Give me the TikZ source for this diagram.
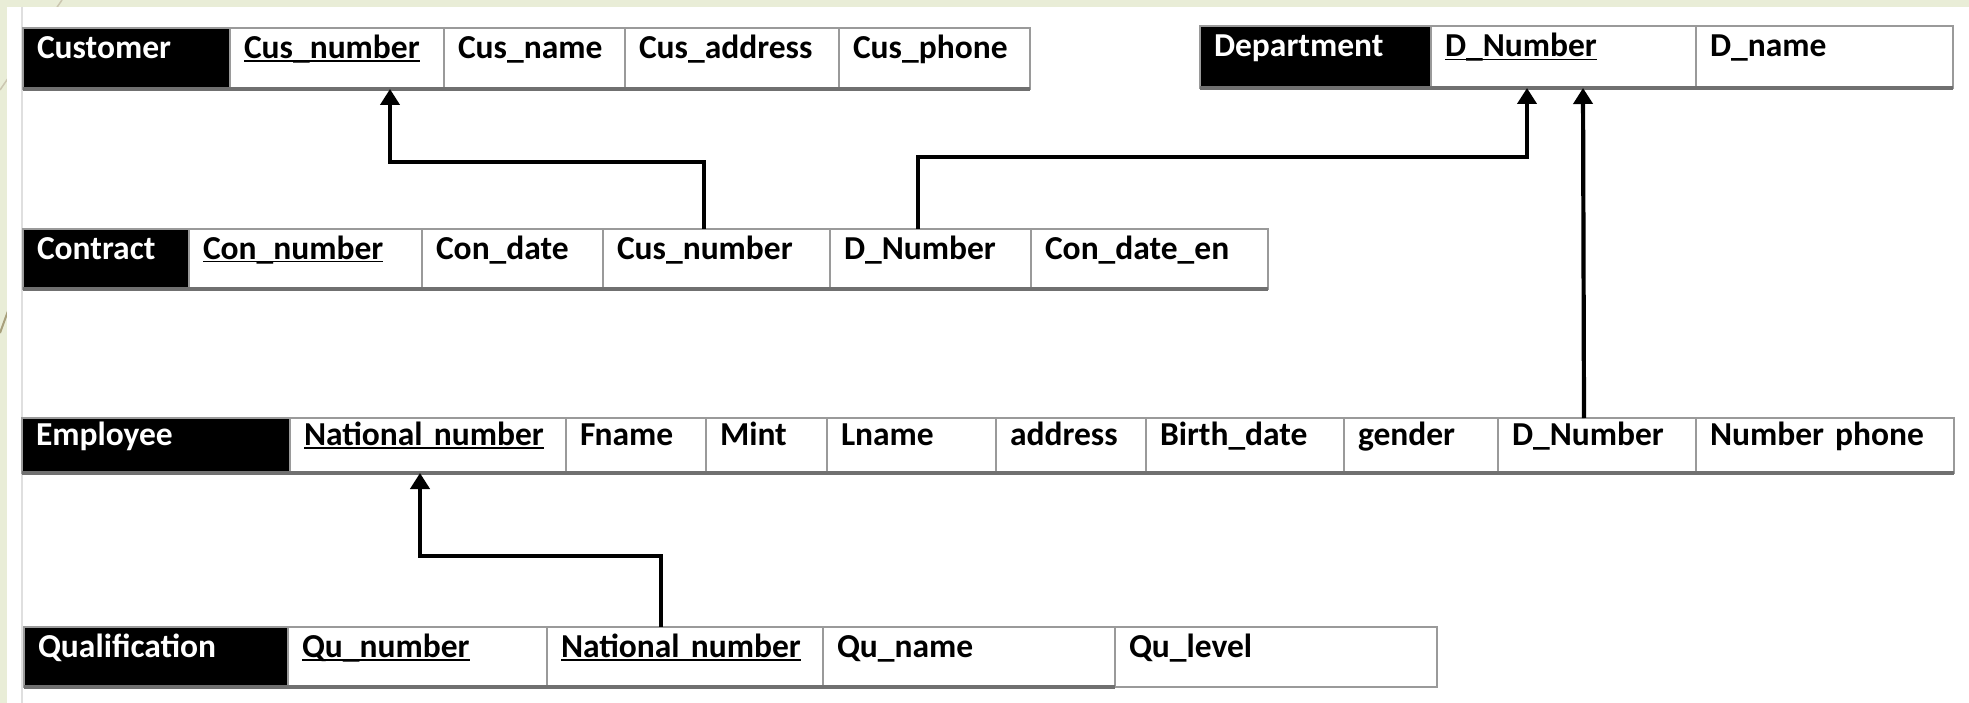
\documentclass[tikz,border=0pt]{standalone}
\usepackage{fontspec}
\setmainfont{Carlito}
\usetikzlibrary{arrows.meta,calc}

\definecolor{bgcream}{HTML}{E9EDD7}
\definecolor{cellline}{HTML}{9A9A9A}
\definecolor{botline}{HTML}{707070}
\definecolor{decoline}{HTML}{A8A07C}

\newsavebox\ulbox
\newcommand\keyul[1]{\sbox\ulbox{#1}\usebox\ulbox\hspace{-\wd\ulbox}\rule[-3.5pt]{\wd\ulbox}{1.8pt}}

\tikzset{
  cellbox/.style={draw=cellline, line width=1.5pt, rectangle, anchor=north west,
    inner xsep=14pt, inner ysep=0pt, outer sep=0pt, text height=12pt, text depth=12pt,
    align=left, font=\fontsize{33.5}{40}\selectfont\bfseries},
  headbox/.style={cellbox, fill=black, text=white},
  fk/.style={line width=4.2pt, -{Triangle[width=19pt,length=16pt]}},
  tabbottom/.style={draw=botline, line width=3.5pt},
}

\newcommand\tcell[7][cellbox]{%
  \node[#1, minimum width={(#4-#3)*1pt}, minimum height={(#6-#5)*1pt},
        text width={(#4-#3-28)*1pt}] (#2) at (#3,#5) {#7};}

\begin{document}
\begin{tikzpicture}[x=1pt,y=-1pt]
  \useasboundingbox (0,0) rectangle (1969,703);
  % slide background
  \fill[bgcream] (0,0) rectangle (1969,703);
  \begin{scope}
    \clip (0,0) rectangle (1969,703);
    \draw[decoline!60, line width=1.5pt] (62,0) -- (0,90);
    \draw[decoline, line width=2pt] (8,311) -- (0,333);
  \end{scope}
  \fill[white] (7,7) rectangle (1969,703);
  \draw[gray!25, line width=2pt] (21.5,7) -- (21.5,703);

  % Customer
  \tcell[headbox]{cu-head}{23}{230}{28}{89}{Customer}
  \tcell{cu-num}{230}{444}{28}{89}{\keyul{Cus\_number}}
  \tcell{cu-name}{444}{625}{28}{89}{Cus\_name}
  \tcell{cu-addr}{625}{839}{28}{89}{Cus\_address}
  \tcell{cu-phone}{839}{1030}{28}{89}{Cus\_phone}
  \draw[tabbottom] (cu-head.south west) -- (cu-phone.south east);

  % Department
  \tcell[headbox]{de-head}{1200}{1431}{26}{88}{Department}
  \tcell{de-num}{1431}{1696}{26}{88}{\keyul{D\_Number}}
  \tcell{de-name}{1696}{1953}{26}{88}{D\_name}
  \draw[tabbottom] (de-head.south west) -- (de-name.south east);

  % Contract
  \tcell[headbox]{ct-head}{23}{189}{229}{289}{Contract}
  \tcell{ct-num}{189}{422}{229}{289}{\keyul{Con\_number}}
  \tcell{ct-date}{422}{603}{229}{289}{Con\_date}
  \tcell{ct-cus}{603}{830}{229}{289}{Cus\_number}
  \tcell{ct-dn}{830}{1031}{229}{289}{D\_Number}
  \tcell{ct-end}{1031}{1268}{229}{289}{Con\_date\_en}
  \draw[tabbottom] (ct-head.south west) -- (ct-end.south east);

  % Employee
  \tcell[headbox]{em-head}{22}{290}{418}{473}{Employee}
  \tcell{em-nat}{290}{566}{418}{473}{\keyul{National number}}
  \tcell{em-fn}{566}{706}{418}{473}{Fname}
  \tcell{em-mi}{706}{827}{418}{473}{Mint}
  \tcell{em-ln}{827}{996}{418}{473}{Lname}
  \tcell{em-addr}{996}{1146}{418}{473}{address}
  \tcell{em-bd}{1146}{1344}{418}{473}{Birth\_date}
  \tcell{em-gen}{1344}{1498}{418}{473}{gender}
  \tcell{em-dn}{1498}{1696}{418}{473}{D\_Number}
  \tcell{em-ph}{1696}{1954}{418}{473}{Number phone}
  \draw[tabbottom] (em-head.south west) -- (em-ph.south east);

  % Qualification
  \tcell[headbox]{qu-head}{24}{288}{627}{687}{Qualification}
  \tcell{qu-num}{288}{547}{627}{687}{\keyul{Qu\_number}}
  \tcell{qu-nat}{547}{823}{627}{687}{\keyul{National number}}
  \tcell{qu-name}{823}{1115}{627}{687}{Qu\_name}
  \tcell{qu-lev}{1115}{1437}{627}{687}{Qu\_level}
  \draw[tabbottom] (qu-head.south west) -- (qu-name.south east);

  % foreign keys
  \draw[fk] ($(ct-cus.north west)+(101,0)$) -- ++(0,-67) -| ($(cu-num.south west)+(160,0)$);
  \draw[fk] ($(ct-dn.north west)+(88,0)$) -- ++(0,-72) -| ($(de-num.south west)+(96,0)$);
  \draw[fk] ($(em-dn.north west)+(86,0)$) -- ($(de-num.south west)+(152,0)$);
  \draw[fk] ($(qu-nat.north west)+(114,0)$) -- ++(0,-71) -| ($(em-nat.south west)+(130,0)$);
\end{tikzpicture}
\end{document}
